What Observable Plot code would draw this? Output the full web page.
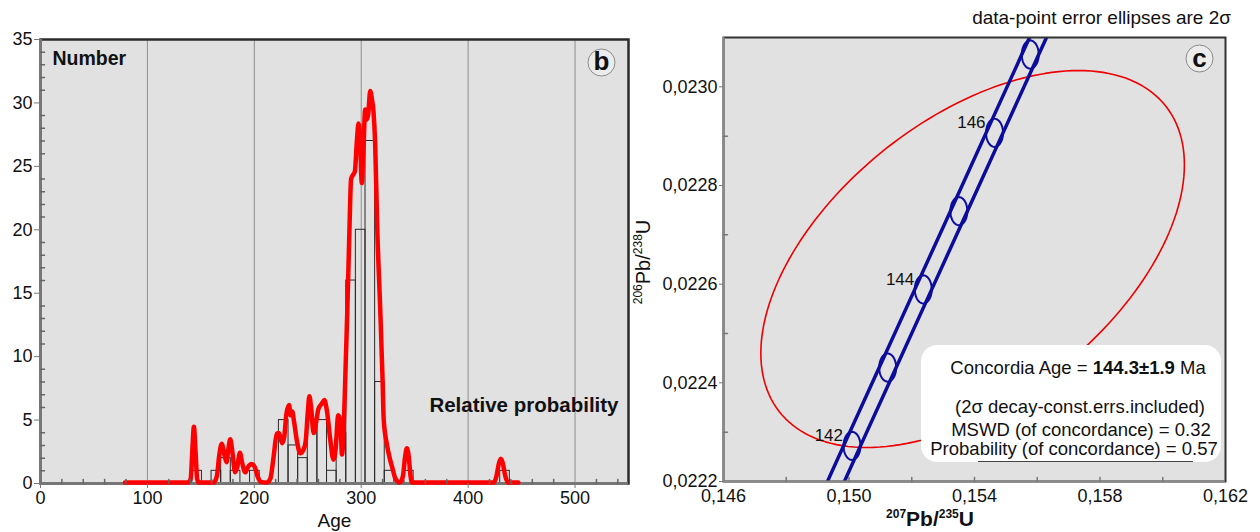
<!DOCTYPE html>
<html>
<head>
<meta charset="utf-8">
<script src="https://cdn.jsdelivr.net/npm/d3@7"></script>
<script src="https://cdn.jsdelivr.net/npm/@observablehq/plot@0.6"></script>
<style>
  body { margin: 0; background: #fff; font-family: "Liberation Sans", Arial, sans-serif; color: #111; }
  #wrap { position: relative; width: 1260px; height: 532px; overflow: hidden; }
  .sup { font-size: 12px; position: relative; top: -8px; }
</style>
</head>
<body>
<div id="wrap"></div>
<script>
// ---------------- Panel b : age histogram + relative probability ----------------
const binWidth = 9;
const binStarts = [142, 160, 169, 178, 196, 223, 232, 241, 250, 259, 268, 277, 286, 295, 304, 313, 322, 340, 430];
const binCounts = [1, 1, 2, 1, 1, 5, 3, 2, 5, 5, 1, 4, 16, 20, 27, 8, 1, 1, 1];
// relative probability curve, expressed on the count axis: [age, value]
const probabilityCurve = [
  [79,0],[138,0],[140.5,0.3],[142,2.5],[143.5,4.4],[145,2.5],[146.5,0.3],[148,0],
  [162,0],[165,0.5],[167,2],[169.5,3.05],[172,2.2],[174,1.6],[175.5,2.5],[177.5,3.4],[179.5,2.4],
  [182,0.8],[184,1.2],[186.5,2.35],[188.5,1.6],[191.5,0.8],[194,1.2],[197.5,1.45],[200.5,1.2],
  [203,0.5],[206,0.05],[212,0],[215,0.3],[218,2],[221,3.85],[223,3.9],[226,3.1],[228,3.6],
  [230,5.4],[232.5,6.1],[234,5.3],[235.5,5.6],[237,4.9],[240,3.2],[243,2.3],[246,2.6],[248,3.2],
  [250,5.5],[251.5,6.8],[253,6.0],[255.5,3.9],[257.5,4.6],[260,5.8],[263,6.2],[265.5,6.5],
  [268,5.6],[271,3.4],[274,1.8],[276,2.6],[278.5,5.3],[280.5,4.8],[282,2.2],[283.5,4],[285,8],
  [287,13.6],[289,20],[290.5,23.9],[292,24.2],[294,24.5],[296,27],[297.5,28.3],[299,27],
  [300.5,23.6],[302,26],[303.7,29.4],[305,28.6],[306.5,29],[308.4,30.86],[310,30.2],[311.5,29.2],
  [313,26.8],[315,20],[317.8,13.6],[320,8],[321,5],[324,3],[327,1.8],[329,1.2],[332,0.3],[336,0],
  [339,0.5],[341,2],[342.7,2.7],[344.5,2],[346,0.6],[347.5,0],
  [424,0],[426.5,0.5],[428.5,1.4],[430.5,1.87],[432.5,1.5],[434.5,0.6],[437.5,0],[447,0]
];
const ageTicks = [0, 100, 200, 300, 400, 500];
const ageMinorTicks = [20,40,60,80,120,140,160,180,220,240,260,280,320,340,360,380,420,440,460,480,520,540];
const countTicks = [0, 5, 10, 15, 20, 25, 30, 35];
const countMinorTicks = [1,2,3,4,6,7,8,9,11,12,13,14,16,17,18,19,21,22,23,24,26,27,28,29,31,32,33,34];

// ---------------- Panel c : concordia diagram ----------------
const concAges = [140, 141, 142, 143, 144, 145, 146, 147, 148];
const concX = [0.147836, 0.148968, 0.150096, 0.151233, 0.152367, 0.153502, 0.154639, 0.155777, 0.156916];
const concY = [0.021955, 0.0221135, 0.0222722, 0.0224309, 0.0225894, 0.022748, 0.0229067, 0.0230654, 0.023224];
const bandHalfWidth = 0.00027;
const markerAges = [141, 142, 143, 144, 145, 146, 147];
const markerHalfX = 0.00027, markerHalfY = 0.0000285;
const labelAges = [142, 144, 146];
// concordia-age error ellipse
const meanX = 0.15394, meanY = 0.022651, errX = 0.00675, errY = 0.000382, rho = 0.5;
const ratioXTicks = [0.146, 0.150, 0.154, 0.158, 0.162];
const ratioXMinor = [0.148, 0.150, 0.152, 0.154, 0.156, 0.158, 0.160];
const ratioYTicks = [0.0222, 0.0224, 0.0226, 0.0228, 0.0230];
const ratioYMinor = [0.0223, 0.0225, 0.0227, 0.0229];

// ---------------- build ----------------
const wrap = document.getElementById("wrap");
const font = "'Liberation Sans', Arial, sans-serif";
const tickShape = { draw(context, l) { context.moveTo(0, 0); context.lineTo(0, -l); } };
const commaFmt = (f) => (d) => d3.format(f)(d).replace(".", ",");

const bins = binStarts.map((lo, i) => ({ lo, hi: lo + binWidth, n: binCounts[i] }));

const left = Plot.plot({
  width: 640, height: 532,
  marginLeft: 40, marginRight: 12, marginTop: 39, marginBottom: 49,
  x: { domain: [0, 550] },
  y: { domain: [0, 35] },
  style: { fontFamily: font, fontSize: "18px", color: "#111", background: "transparent", overflow: "visible" },
  marks: [
    Plot.frame({ fill: "#e1e1e1" }),
    Plot.ruleX(ageTicks.filter(d => d > 0), { stroke: "#8e8e8e", strokeWidth: 1 }),
    Plot.rectY(bins, { x1: "lo", x2: "hi", y1: 0, y2: "n", fill: "none", stroke: "#2a2a2a", strokeWidth: 1 }),
    Plot.frame({ stroke: "#2b2b2b", strokeWidth: 2.5 }),
    Plot.ruleX([0], { stroke: "#777", strokeWidth: 3 }),
    Plot.ruleY([0], { stroke: "#777", strokeWidth: 3 }),
    Plot.line(probabilityCurve, { x: d => d[0], y: d => d[1], dy: -1, stroke: "#ff0000", strokeWidth: 4.5, curve: "monotone-x" }),
    Plot.axisY(countTicks, { tickSize: 6, tickPadding: 2, label: null, stroke: "#777" }),
    Plot.axisX(ageTicks, { tickSize: 5, tickPadding: 3, label: null, stroke: "#777" }),
    Plot.vector(ageMinorTicks, { x: d => d, frameAnchor: "bottom", length: 4, anchor: "start", shape: tickShape, stroke: "#666" }),
    Plot.vector(countMinorTicks, { y: d => d, frameAnchor: "left", rotate: 90, length: 4, anchor: "start", shape: tickShape, stroke: "#666" }),
    Plot.text(["Number"], { frameAnchor: "top-left", dx: 12, dy: 19, textAnchor: "start", lineAnchor: "middle", fontWeight: "bold", fontSize: 19.5 }),
    Plot.text(["Relative probability"], { frameAnchor: "bottom-right", dx: -10, dy: -78, textAnchor: "end", lineAnchor: "middle", fontWeight: "bold", fontSize: 20.5 }),
    Plot.dot([0], { frameAnchor: "top-right", dx: -27, dy: 23, r: 13.5, stroke: "#8a8a8a", fill: "#ececec", strokeWidth: 1 }),
    Plot.text(["b"], { frameAnchor: "top-right", dx: -27, dy: 22, textAnchor: "middle", lineAnchor: "middle", fontWeight: "bold", fontSize: 26 }),
    Plot.text(["Age"], { frameAnchor: "bottom", dy: 37, lineAnchor: "middle", fontSize: 19 })
  ]
});

// concordia geometry
const conc = concAges.map((a, i) => ({ age: a, x: concX[i], y: concY[i] }));
const concAt = a => conc.find(d => d.age === a);
function ellipsePoints(cx, cy, rx, ry, r, n, key) {
  const pts = [];
  for (let k = 0; k <= n; k++) {
    const t = (2 * Math.PI * k) / n;
    pts.push({ key, x: cx + rx * Math.cos(t), y: cy + ry * (r * Math.cos(t) + Math.sqrt(1 - r * r) * Math.sin(t)) });
  }
  return pts;
}
const meanEllipse = ellipsePoints(meanX, meanY, errX, errY, rho, 180, "mean");
const markerPts = markerAges.flatMap(a => { const c = concAt(a); return ellipsePoints(c.x, c.y, markerHalfX, markerHalfY, 0, 60, a); });
const labelData = labelAges.map(a => concAt(a));
const blue = "#0c0c9c";

const right = Plot.plot({
  width: 620, height: 532,
  marginLeft: 83, marginRight: 35, marginTop: 37, marginBottom: 51,
  x: { domain: [0.146, 0.162] },
  y: { domain: [0.0222, 0.0231] },
  style: { fontFamily: font, fontSize: "18px", color: "#111", background: "transparent", overflow: "visible" },
  marks: [
    Plot.frame({ fill: "#e1e1e1" }),
    Plot.line(meanEllipse, { x: "x", y: "y", stroke: "#ee0000", strokeWidth: 1.6, clip: true }),
    Plot.line(conc, { x: d => d.x - bandHalfWidth, y: "y", stroke: blue, strokeWidth: 3.5, clip: true }),
    Plot.line(conc, { x: d => d.x + bandHalfWidth, y: "y", stroke: blue, strokeWidth: 3.5, clip: true }),
    Plot.line(markerPts, { x: "x", y: "y", z: "key", stroke: blue, strokeWidth: 2, clip: true }),
    Plot.text(labelData, { x: "x", y: "y", text: d => String(d.age), dx: -9, dy: -10, textAnchor: "end", lineAnchor: "middle", fontSize: 17 }),
    Plot.frame({ stroke: "#333", strokeWidth: 2 }),
    Plot.ruleX([0.146], { stroke: "#8a8a8a", strokeWidth: 2 }),
    Plot.ruleY([0.0222], { stroke: "#8a8a8a", strokeWidth: 2 }),
    Plot.axisX(ratioXTicks, { tickSize: 0, tickPadding: 8, tickFormat: commaFmt(".3f"), label: null }),
    Plot.axisY(ratioYTicks, { tickSize: 4, tickPadding: 2, tickFormat: commaFmt(".4f"), label: null, stroke: "#777" }),
    Plot.vector(ratioXMinor, { x: d => d, frameAnchor: "bottom", length: 4, anchor: "start", shape: tickShape, stroke: "#777" }),
    Plot.vector(ratioYMinor, { y: d => d, frameAnchor: "left", rotate: 90, length: 4, anchor: "start", shape: tickShape, stroke: "#777" }),
    Plot.dot([0], { frameAnchor: "top-right", dx: -26, dy: 21, r: 13.5, stroke: "#8a8a8a", fill: "#ececec", strokeWidth: 1 }),
    Plot.text(["c"], { frameAnchor: "top-right", dx: -26, dy: 21, textAnchor: "middle", lineAnchor: "middle", fontWeight: "bold", fontSize: 26 })
  ]
});

function place(el, x) {
  const d = document.createElement("div");
  d.style.cssText = `position:absolute;left:${x}px;top:0;`;
  d.appendChild(el);
  wrap.appendChild(d);
}
place(left, 0);
place(right, 640);

function addDiv(html, css) {
  const d = document.createElement("div");
  d.innerHTML = html;
  d.style.cssText = "position:absolute;white-space:nowrap;line-height:1;" + css;
  wrap.appendChild(d);
  return d;
}
addDiv("data-point error ellipses are 2σ", "right:29px;top:8px;font-size:19px;");
addDiv('<span class="sup">207</span>Pb/<span class="sup">235</span>U', "left:930px;top:508px;transform:translateX(-50%);font-size:21px;font-weight:bold;");
addDiv('<span class="sup">206</span>Pb/<span class="sup">238</span>U', "left:643px;top:262px;transform:translate(-50%,-50%) rotate(-90deg);font-size:20px;");
// result box
addDiv("", "left:921px;top:345px;width:300px;height:117px;background:#fff;border-radius:16px;");
addDiv("", "left:978px;top:461px;width:215px;height:1px;background:#444;");
addDiv("Concordia Age = <b>144.3±1.9</b> Ma", "left:1078px;top:359px;transform:translateX(-50%);font-size:18.5px;");
addDiv("(2σ decay-const.errs.included)", "left:1080px;top:398px;transform:translateX(-50%);font-size:18.5px;");
addDiv("MSWD (of concordance) = 0.32", "left:1081px;top:421px;transform:translateX(-50%);font-size:18.5px;");
addDiv("Probability (of concordance) = 0.57", "left:1074px;top:440px;transform:translateX(-50%);font-size:18.5px;");
</script>
</body>
</html>
